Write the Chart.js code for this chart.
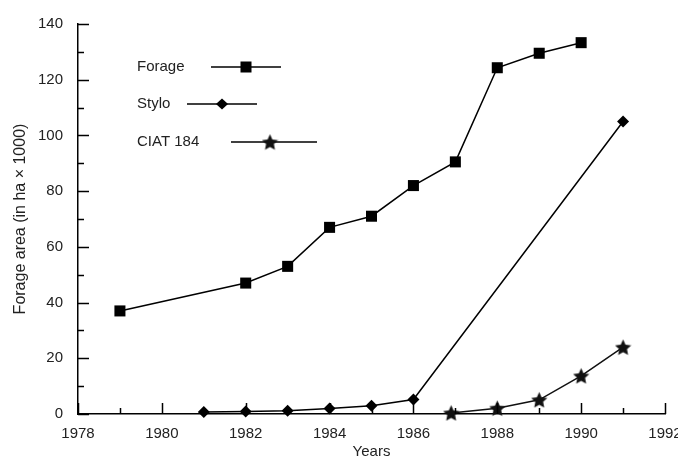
<!DOCTYPE html>
<html>
<head>
<meta charset="utf-8">
<script src="https://cdn.jsdelivr.net/npm/chart.js@4.4.1/dist/chart.umd.min.js"></script>
<style>
  html, body { margin: 0; padding: 0; background: #fff; }
  #wrap { width: 678px; height: 459px; }
</style>
</head>
<body>
<div id="wrap"><canvas id="chart"></canvas></div>
<script>
// data
const forageYears = [1979, 1982, 1983, 1984, 1985, 1986, 1987, 1988, 1989, 1990];
const forageArea = [37, 47, 53, 67, 71, 82, 90.5, 124.3, 129.5, 133.3];

const styloYears = [1981, 1982, 1983, 1984, 1985, 1986, 1991];
const styloArea = [0.7, 0.9, 1.2, 2.0, 3.0, 5.2, 105];

const ciatYears = [1986.9, 1988, 1989, 1990, 1991];
const ciatArea = [0.4, 2.1, 5.1, 13.7, 24];

const seriesLabels = ['Forage', 'Stylo', 'CIAT 184'];
const xTicksYears = [1978, 1980, 1982, 1984, 1986, 1988, 1990, 1992];

const FONT = "'Liberation Sans', Arial, sans-serif";

// filled 5 point star used as point marker
function makeStar(size, color) {
  const c = document.createElement('canvas');
  c.width = size; c.height = size;
  const g = c.getContext('2d');
  const cx = size / 2, cy = size / 2 + 0.8;
  const R = size / 2, r = R * 0.48;
  g.beginPath();
  for (let i = 0; i < 10; i++) {
    const rad = (i % 2 === 0) ? R : r;
    const a = -Math.PI / 2 + i * Math.PI / 5;
    const px = cx + rad * Math.cos(a), py = cy + rad * Math.sin(a);
    if (i === 0) g.moveTo(px, py); else g.lineTo(px, py);
  }
  g.closePath();
  g.fillStyle = color;
  g.fill();
  return c;
}
const starImg = makeStar(17, '#111');

function toPoints(xs, ys) {
  return xs.map((x, i) => ({ x: x, y: ys[i] }));
}

// tick marks pointing into the plot, major + minor
const innerTicks = {
  id: 'innerTicks',
  afterDraw(chart) {
    const { ctx, chartArea, scales } = chart;
    ctx.save();
    ctx.strokeStyle = '#000';
    ctx.lineWidth = 1.5;
    ctx.beginPath();
    for (let yr = 1978; yr <= 1992; yr++) {
      const px = Math.round(scales.x.getPixelForValue(yr)) + 0.5;
      const len = yr % 2 === 0 ? 11 : 6;
      ctx.moveTo(px, chartArea.bottom);
      ctx.lineTo(px, chartArea.bottom - len);
    }
    for (let v = 0; v <= 140; v += 10) {
      const py = Math.round(scales.y.getPixelForValue(v)) + 0.5;
      const len = v % 20 === 0 ? 11 : 6;
      ctx.moveTo(chartArea.left, py);
      ctx.lineTo(chartArea.left + len, py);
    }
    ctx.stroke();
    ctx.restore();
  }
};

// legend laid out like the original figure
const customLegend = {
  id: 'customLegend',
  afterDraw(chart) {
    const ctx = chart.ctx;
    const rows = [
      { text: seriesLabels[0], y: 67, x1: 211, x2: 281, mx: 246, mark: 'square' },
      { text: seriesLabels[1], y: 104, x1: 187, x2: 257, mx: 222, mark: 'diamond' },
      { text: seriesLabels[2], y: 142, x1: 231, x2: 317, mx: 270, mark: 'star' }
    ];
    ctx.save();
    ctx.font = '15px ' + FONT;
    ctx.textBaseline = 'middle';
    ctx.textAlign = 'left';
    rows.forEach(r => {
      ctx.fillStyle = '#222';
      ctx.fillText(r.text, 137, r.y);
      ctx.strokeStyle = '#000';
      ctx.lineWidth = 1.4;
      ctx.beginPath();
      ctx.moveTo(r.x1, r.y);
      ctx.lineTo(r.x2, r.y);
      ctx.stroke();
      ctx.fillStyle = '#000';
      if (r.mark === 'square') {
        ctx.fillRect(r.mx - 5.5, r.y - 5.5, 11, 11);
      } else if (r.mark === 'diamond') {
        ctx.beginPath();
        ctx.moveTo(r.mx - 6, r.y);
        ctx.lineTo(r.mx, r.y - 5.5);
        ctx.lineTo(r.mx + 6, r.y);
        ctx.lineTo(r.mx, r.y + 5.5);
        ctx.closePath();
        ctx.fill();
      } else {
        ctx.drawImage(starImg, r.mx - 8.5, r.y - 8.5);
      }
    });
    ctx.restore();
  }
};

const ctx = document.getElementById('chart').getContext('2d');
new Chart(ctx, {
  type: 'line',
  data: {
    datasets: [
      {
        label: seriesLabels[0],
        data: toPoints(forageYears, forageArea),
        borderColor: '#000',
        backgroundColor: '#000',
        borderWidth: 1.5,
        pointStyle: 'rect',
        pointRadius: 7.8,
        pointBorderWidth: 0,
        fill: false,
        clip: false
      },
      {
        label: seriesLabels[1],
        data: toPoints(styloYears, styloArea),
        borderColor: '#000',
        backgroundColor: '#000',
        borderWidth: 1.5,
        pointStyle: 'rectRot',
        pointRadius: 6,
        pointBorderWidth: 0,
        fill: false,
        clip: false
      },
      {
        label: seriesLabels[2],
        data: toPoints(ciatYears, ciatArea),
        borderColor: '#111',
        backgroundColor: '#111',
        borderWidth: 1.5,
        pointStyle: starImg,
        pointRadius: 8,
        fill: false,
        clip: false
      }
    ]
  },
  options: {
    responsive: true,
    maintainAspectRatio: false,
    animation: false,
    events: [],
    layout: { padding: { left: 0, right: 13, top: 21, bottom: 0 } },
    plugins: {
      legend: { display: false },
      tooltip: { enabled: false }
    },
    scales: {
      x: {
        type: 'linear',
        min: 1978,
        max: 1992,
        grid: { display: false, drawTicks: false },
        border: { display: true, color: '#000', width: 1.5 },
        afterBuildTicks: (scale) => {
          scale.ticks = xTicksYears.map(v => ({ value: v }));
        },
        ticks: {
          padding: 11,
          color: '#222',
          font: { family: FONT, size: 15 },
          maxRotation: 0,
          callback: (v) => String(v)
        },
        title: {
          display: true,
          text: 'Years',
          color: '#222',
          font: { family: FONT, size: 15 },
          padding: { top: 0, bottom: -2 }
        },
        afterFit: (scale) => {
          scale.height = 45;
          scale.paddingLeft = 0;
          scale.paddingRight = 0;
        }
      },
      y: {
        min: 0,
        max: 140,
        grid: { display: false, drawTicks: false },
        border: { display: true, color: '#000', width: 1.5 },
        ticks: {
          stepSize: 20,
          padding: 15,
          color: '#222',
          font: { family: FONT, size: 15 }
        },
        title: {
          display: true,
          text: 'Forage area (in ha \u00d7 1000)',
          color: '#222',
          font: { family: FONT, size: 16 },
          padding: { top: 11, bottom: 0 }
        },
        afterFit: (scale) => {
          scale.width = 78;
        }
      }
    }
  },
  plugins: [innerTicks, customLegend]
});
</script>
</body>
</html>
